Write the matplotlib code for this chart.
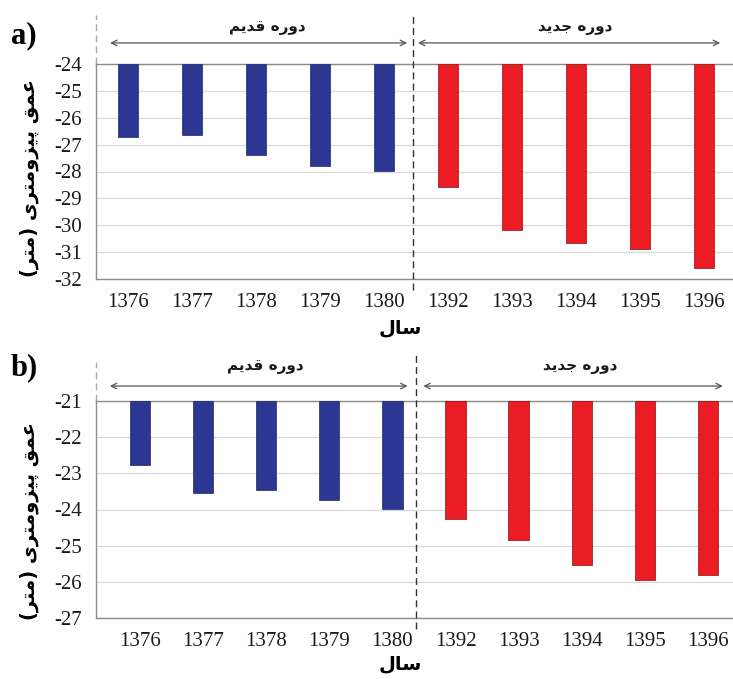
import matplotlib
matplotlib.use('Agg')
import matplotlib.pyplot as plt

years = ['1376', '1377', '1378', '1379', '1380', '1392', '1393', '1394', '1395', '1396']

# piezometric depth (m), panel a and panel b
depth_a = [-26.7, -26.64, -27.38, -27.81, -27.99, -28.57, -30.18, -30.66, -30.87, -31.58]
depth_b = [-22.77, -23.53, -23.47, -23.73, -23.99, -24.27, -24.83, -25.54, -25.96, -25.82]

yticks_a = [-24, -25, -26, -27, -28, -29, -30, -31, -32]
yticks_b = [-21, -22, -23, -24, -25, -26, -27]

old_label = 'دوره قدیم'
new_label = 'دوره جدید'
ylabel = 'عمق پیزومتری (متر)'
xlabel = 'سال'

BLUE = '#2b3793'
RED = '#ec1c24'

# contextual forms: isolated, final, initial, medial
FORMS = {
    'ا': ('\uFE8D', '\uFE8E', None, None),
    'د': ('\uFEA9', '\uFEAA', None, None),
    'ر': ('\uFEAD', '\uFEAE', None, None),
    'ز': ('\uFEAF', '\uFEB0', None, None),
    'و': ('\uFEED', '\uFEEE', None, None),
    'ه': ('\uFEE9', '\uFEEA', '\uFEEB', '\uFEEC'),
    'ق': ('\uFED5', '\uFED6', '\uFED7', '\uFED8'),
    'ی': ('\uFBFC', '\uFBFD', '\uFBFE', '\uFBFF'),
    'م': ('\uFEE1', '\uFEE2', '\uFEE3', '\uFEE4'),
    'ج': ('\uFE9D', '\uFE9E', '\uFE9F', '\uFEA0'),
    'ع': ('\uFEC9', '\uFECA', '\uFECB', '\uFECC'),
    'پ': ('\uFB56', '\uFB57', '\uFB58', '\uFB59'),
    'ت': ('\uFE95', '\uFE96', '\uFE97', '\uFE98'),
    'س': ('\uFEB1', '\uFEB2', '\uFEB3', '\uFEB4'),
    'ل': ('\uFEDD', '\uFEDE', '\uFEDF', '\uFEE0'),
}


def shape(text):
    out = []
    for i, ch in enumerate(text):
        if ch not in FORMS:
            out.append(ch)
            continue
        prev = text[i - 1] if i > 0 else ''
        nxt = text[i + 1] if i + 1 < len(text) else ''
        join_prev = prev in FORMS and FORMS[prev][2] is not None
        join_next = FORMS[ch][2] is not None and nxt in FORMS
        iso, fin, ini, med = FORMS[ch]
        if join_prev and join_next:
            out.append(med)
        elif join_prev:
            out.append(fin)
        elif join_next:
            out.append(ini)
        else:
            out.append(iso)
    s = ''.join(reversed(out))
    return s.translate(str.maketrans('()', ')('))


AR = ['DejaVu Sans']
SERIF = ['Liberation Serif', 'DejaVu Serif']

fig = plt.figure(figsize=(7.33, 6.79), dpi=100)
W, H = 733, 679


def px_axes(left, top, right, bottom):
    return fig.add_axes([left / W, 1 - bottom / H, (right - left) / W, (bottom - top) / H])


def panel(ax, values, yticks, xlim, sep, arrows, labels, lab_y, arr_y, top_y, left_top, letter, xlab_y, ylab_y):
    top, bottom = yticks[0], yticks[-1]
    x = list(range(len(years)))
    colors = [BLUE] * 5 + [RED] * 5
    edges = ['#1d2766'] * 5 + ['#8a1010'] * 5
    heights = [v - top for v in values]
    ax.bar(x, heights, bottom=top, width=0.32, color=colors, edgecolor=edges, linewidth=0.5, zorder=3)
    ax.set_ylim(bottom, top)
    ax.set_xlim(*xlim)
    ax.set_yticks(yticks)
    ax.set_yticklabels([str(t) for t in yticks], family=SERIF, fontsize=15, color='#1a1a1a')
    ax.set_xticks(x)
    ax.set_xticklabels(years, family=SERIF, fontsize=15, color='#1a1a1a')
    ax.tick_params(length=0, pad=10)
    ax.grid(axis='y', color='#d8d8d8', linewidth=0.9, zorder=0)
    for s in ['left', 'bottom', 'top']:
        ax.spines[s].set_color('#8c8c8c')
        ax.spines[s].set_linewidth(1.0)
    ax.spines['right'].set_visible(False)

    tr = ax.get_xaxis_transform()
    # period separator and left guide
    ax.plot([sep, sep], [-0.05, top_y], transform=tr, color='#333333', lw=1.0,
            ls=(0, (5, 3)), clip_on=False, zorder=4)
    ax.plot([0, 0], [1.0, left_top], transform=ax.transAxes, color='#aaaaaa', lw=1.0,
            ls=(0, (5, 3)), clip_on=False)
    for (x0, x1) in arrows:
        ax.annotate('', xy=(x1, arr_y), xytext=(x0, arr_y), xycoords=tr, textcoords=tr,
                    arrowprops=dict(arrowstyle='<->', color='#555555', lw=0.9,
                                    shrinkA=0, shrinkB=0), annotation_clip=False)
    for (xc, txt) in zip(labels, [old_label, new_label]):
        ax.text(xc, lab_y, shape(txt), transform=tr, ha='center', va='center',
                family=AR, fontsize=11, fontweight='bold', color='#1a1a1a')

    fig.text(24 / W, 1 - letter / H, letter_txt[ax], family=SERIF, fontsize=22,
             fontweight='bold', ha='center', va='center')
    fig.text(400 / W, 1 - xlab_y / H, shape(xlabel), family=AR, fontsize=14,
             fontweight='bold', ha='center', va='center')
    fig.text(29 / W, 1 - ylab_y / H, shape(ylabel), family=AR, fontsize=14,
             fontweight='bold', ha='center', va='center', rotation=90)


ax_a = px_axes(96, 64, 733, 279)
ax_b = px_axes(96, 401, 733, 618)
letter_txt = {ax_a: 'a)', ax_b: 'b)'}

panel(ax_a, depth_a, yticks_a, (-0.5, 9.45), 4.45,
      [(-0.28, 4.36), (4.53, 9.25)], [2.17, 6.98], 1.172, 1.098, 1.228, 1.228,
      36, 328, 178)
panel(ax_b, depth_b, yticks_b, (-0.7, 9.4), 4.38,
      [(-0.48, 4.24), (4.49, 9.24)], [1.98, 6.98], 1.157, 1.069, 1.21, 1.18,
      368, 664, 521)

fig.savefig('out.png', dpi=100)
